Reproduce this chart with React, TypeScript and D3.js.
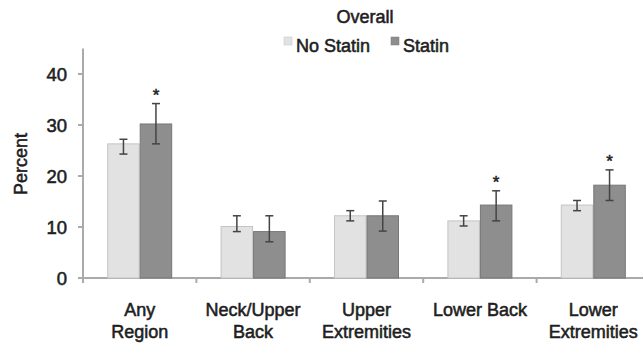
import * as d3 from "d3";
import React, { useEffect, useRef } from "react";

const categories = [["Any", "Region"], ["Neck/Upper", "Back"], ["Upper", "Extremities"], ["Lower Back"], ["Lower", "Extremities"]];
const seriesNames = ["No Statin", "Statin"];
const noStatin = [26.3, 10.1, 12.2, 11.2, 14.3];
const noStatinLo = [24.3, 9.1, 11.2, 10.2, 13.2];
const noStatinHi = [27.2, 12.2, 13.2, 12.2, 15.2];
const statin = [30.2, 9.1, 12.2, 14.3, 18.2];
const statinLo = [26.3, 7.1, 9.2, 11.2, 15.2];
const statinHi = [34.2, 12.2, 15.1, 17.1, 21.2];
const significant = [true, false, false, true, true];
const yTicks = [0, 10, 20, 30, 40];

export default function App() {
    const ref = useRef(null);

    useEffect(() => {
        const svg = d3.select(ref.current);
        svg.selectAll("*").remove();
        const font = "'Liberation Sans', Arial, sans-serif";
        const txt = (sel, size = 18) =>
            sel.attr("font-family", font).attr("font-size", size).attr("fill", "#1e1e1e")
                .attr("stroke", "#1e1e1e").attr("stroke-width", 0.55);

        const x0 = 83, y0 = 278;
        const band = 113.4;
        const x = d3.scaleBand().domain(categories.map((d, i) => String(i))).range([x0, x0 + band * 5]);
        const y = d3.scaleLinear().domain([0, 45]).range([y0, y0 - 45 * 5.1]);
        const colors = ["#e2e2e2", "#8e8e8e"];
        const strokes = ["#c4c4c4", "#777"];
        const barW = 32.5;

        // axes
        svg.append("line").attr("x1", x0).attr("x2", x0).attr("y1", y(45)).attr("y2", y0)
            .attr("stroke", "#aaa").attr("stroke-width", 2);
        svg.append("line").attr("x1", x0).attr("x2", 643).attr("y1", y0).attr("y2", y0)
            .attr("stroke", "#aaa").attr("stroke-width", 2);

        svg.selectAll(null).data(yTicks).enter().append("line")
            .attr("x1", x0 - 5).attr("x2", x0).attr("y1", (d) => y(d)).attr("y2", (d) => y(d))
            .attr("stroke", "#aaa").attr("stroke-width", 2);
        txt(svg.selectAll(null).data(yTicks).enter().append("text")
            .attr("x", x0 - 16).attr("y", (d) => y(d)).attr("dy", "0.36em")
            .attr("text-anchor", "end"), 18.5).text((d) => d);

        svg.selectAll(null).data(d3.range(6)).enter().append("line")
            .attr("x1", (d) => x0 + d * band).attr("x2", (d) => x0 + d * band)
            .attr("y1", y0).attr("y2", y0 + 5).attr("stroke", "#aaa").attr("stroke-width", 2);

        txt(svg.append("text").attr("transform", "translate(27,164) rotate(-90)")
            .attr("text-anchor", "middle")).text("Percent");

        // x labels
        const lab = txt(svg.selectAll(null).data(categories).enter().append("text")
            .attr("text-anchor", "middle"));
        lab.each(function (d, i) {
            const cx = x(String(i)) + x.bandwidth() / 2;
            d.forEach((t, j) => {
                d3.select(this).append("tspan").attr("x", cx).attr("y", 316 + j * 21.5).text(t);
            });
        });

        const series = [
            { vals: noStatin, lo: noStatinLo, hi: noStatinHi },
            { vals: statin, lo: statinLo, hi: statinHi },
        ];
        series.forEach((s, si) => {
            const bx = (i) => x(String(i)) + x.bandwidth() / 2 - barW + si * barW;
            svg.selectAll(null).data(s.vals).enter().append("rect")
                .attr("x", (d, i) => bx(i) + 0.5).attr("width", barW - 1)
                .attr("y", (d) => y(d)).attr("height", (d) => y0 - y(d))
                .attr("fill", colors[si]).attr("stroke", strokes[si]).attr("stroke-width", 1);
            const err = svg.selectAll(null).data(s.vals).enter().append("g")
                .attr("stroke", "#444").attr("stroke-width", 1.5);
            err.append("line").attr("x1", (d, i) => bx(i) + barW / 2).attr("x2", (d, i) => bx(i) + barW / 2)
                .attr("y1", (d, i) => y(s.lo[i])).attr("y2", (d, i) => y(s.hi[i]));
            err.append("line").attr("x1", (d, i) => bx(i) + barW / 2 - 4).attr("x2", (d, i) => bx(i) + barW / 2 + 4)
                .attr("y1", (d, i) => y(s.lo[i])).attr("y2", (d, i) => y(s.lo[i]));
            err.append("line").attr("x1", (d, i) => bx(i) + barW / 2 - 4).attr("x2", (d, i) => bx(i) + barW / 2 + 4)
                .attr("y1", (d, i) => y(s.hi[i])).attr("y2", (d, i) => y(s.hi[i]));
            if (si === 1) {
                const idx = d3.range(s.vals.length).filter((i) => significant[i]);
                svg.selectAll(null).data(idx).enter().append("text")
                    .attr("x", (i) => bx(i) + barW / 2).attr("y", (i) => y(s.hi[i]) - 3)
                    .attr("text-anchor", "middle").attr("font-family", font).attr("font-size", 17)
                    .attr("fill", "#222").attr("stroke", "#222").attr("stroke-width", 0.5).text("*");
            }
        });

        // title & legend
        txt(svg.append("text").attr("x", 365).attr("y", 23).attr("text-anchor", "middle")).text("Overall");
        const legX = [284, 391];
        seriesNames.forEach((n, i) => {
            svg.append("rect").attr("x", legX[i]).attr("y", 37).attr("width", 8).attr("height", 8)
                .attr("fill", colors[i]).attr("stroke", strokes[i]).attr("stroke-width", 0.5);
            txt(svg.append("text").attr("x", legX[i] + 12).attr("y", 52)).text(n);
        });
    }, []);

    return <svg ref={ref} width={643} height={346} style={{ position: "absolute", left: 0, top: 0 }} />;
}
